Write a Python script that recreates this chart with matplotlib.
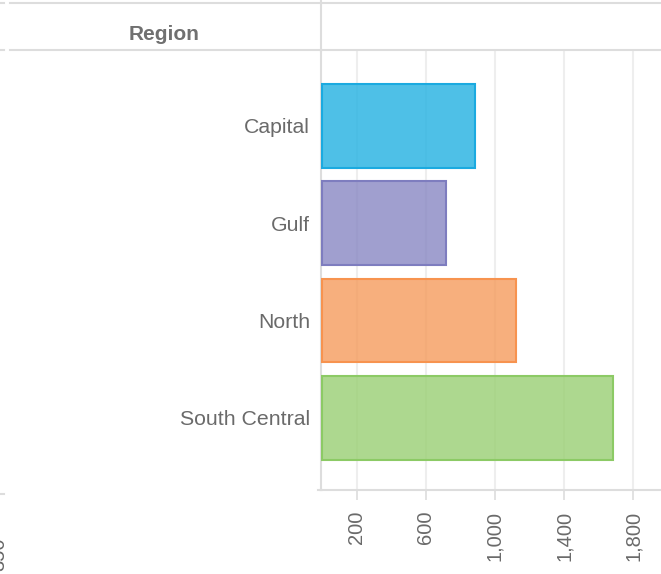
import matplotlib
matplotlib.use("Agg")
import matplotlib.pyplot as plt
from matplotlib.lines import Line2D

categories = ["Capital", "Gulf", "North", "South Central"]
values = [882, 714, 1120, 1685]
tick_values = [200, 600, 1000, 1400, 1800]
tick_labels = ["200", "600", "1,000", "1,400", "1,800"]
fill_colors = ["#22B1E2", "#8887C3", "#F59B5C", "#99CF73"]
edge_colors = ["#1BAAE0", "#7E7DBF", "#F7934F", "#8CCA65"]

W, H = 661, 574
plt.rcParams['font.family'] = ['Liberation Sans', 'DejaVu Sans']
fig = plt.figure(figsize=(W / 100, H / 100), dpi=100)

def fx(px):
    return px / W

def fy(py):
    return 1 - py / H

ax = fig.add_axes([fx(321), fy(490), fx(661) - fx(321), fy(51) - fy(490)])
ypos = list(range(len(categories)))
ax.barh(ypos, values, height=0.86, color=fill_colors, alpha=0.8,
        edgecolor="none", zorder=3)
ax.barh(ypos, values, height=0.86, color="none",
        edgecolor=edge_colors, linewidth=1.5, zorder=4)
ax.set_ylim(3.74, -0.77)
ax.set_xlim(-8, 1962)
ax.set_yticks(ypos)
ax.set_yticklabels(categories, fontsize=15.3, color="#6a6a6a")
ax.tick_params(axis="y", length=0, pad=8)
ax.set_xticks(tick_values)
ax.set_xticklabels(tick_labels, rotation=90, fontsize=14.5, color="#6a6a6a")
ax.tick_params(axis="x", length=7, width=1.2, color="#dddddd", pad=8)
ax.grid(axis="x", color="#eeeeee", linewidth=1.5, zorder=0)
ax.set_axisbelow(True)
for s in ["top", "right"]:
    ax.spines[s].set_visible(False)
for s in ["left", "bottom"]:
    ax.spines[s].set_color("#dddddd")
    ax.spines[s].set_linewidth(1.5)

# header lines
line_kw = dict(color="#dddddd", linewidth=1.5, transform=fig.transFigure)
fig.add_artist(Line2D([fx(10), 1], [fy(3), fy(3)], **line_kw))
fig.add_artist(Line2D([fx(10), 1], [fy(50), fy(50)], **line_kw))
fig.add_artist(Line2D([fx(321), fx(321)], [fy(0), fy(51)], **line_kw))
fig.add_artist(Line2D([fx(318), fx(321)], [fy(490), fy(490)], **line_kw))
for yy in [3, 50, 494]:
    fig.add_artist(Line2D([0, fx(4)], [fy(yy), fy(yy)], **line_kw))

fig.text(fx(164), fy(35), "Region", fontsize=15, fontweight="bold",
         color="#707070", ha="center", va="center")
fig.text(fx(-1), fy(554), "350", fontsize=14.5, color="#666666",
         rotation=90, ha="center", va="center")

fig.savefig("out.png", dpi=100)
